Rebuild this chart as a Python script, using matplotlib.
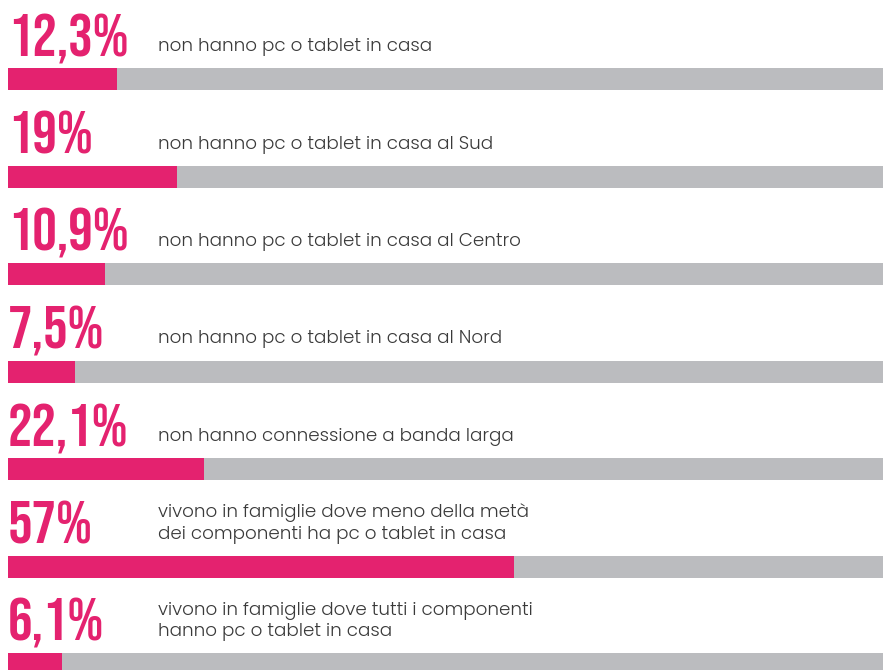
import matplotlib
matplotlib.use("Agg")
import matplotlib.pyplot as plt

# Share of people (%) and the description for each indicator
values = [12.3, 19.0, 10.9, 7.5, 22.1, 57.0, 6.1]
value_labels = ["12,3%", "19%", "10,9%", "7,5%", "22,1%", "57%", "6,1%"]
descriptions = [
    "non hanno pc o tablet in casa",
    "non hanno pc o tablet in casa al Sud",
    "non hanno pc o tablet in casa al Centro",
    "non hanno pc o tablet in casa al Nord",
    "non hanno connessione a banda larga",
    "vivono in famiglie dove meno della metà\ndei componenti ha pc o tablet in casa",
    "vivono in famiglie dove tutti i componenti\nhanno pc o tablet in casa",
]

PINK = "#e4226f"
GREY = "#bbbcbf"
TEXT = "#3a3a3a"

W, H = 883, 670
fig = plt.figure(figsize=(W / 100, H / 100), dpi=100)
fig.patch.set_facecolor("white")

# the track runs from x=8px to just past the right edge
left_px, track_px = 8, 887
row_px, first_center_px = 97.5, 79
ax = fig.add_axes([left_px / W, 0, track_px / W, 1])
ax.set_xlim(0, 100)
ax.set_ylim((H - first_center_px) / row_px, -first_center_px / row_px)
ax.axis("off")

rows = list(range(len(values)))
bar_h = 22 / row_px
ax.barh(rows, [100] * len(values), height=bar_h, color=GREY, linewidth=0)
ax.barh(rows, values, height=bar_h, color=PINK, linewidth=0)

num_base = -23 / row_px
lab_base = -28 / row_px
lab_x = (158 - left_px) / track_px * 100
for r, lab, desc in zip(rows, value_labels, descriptions):
    ax.text(0, r + num_base, lab, family="Bebas Neue", fontsize=44,
            color=PINK, ha="left", va="baseline")
    ax.text(lab_x, r + lab_base, desc, family="Poppins", weight=300,
            fontsize=13.2, color=TEXT, ha="left", va="baseline",
            linespacing=1.25)

fig.savefig("out.png", dpi=100, facecolor="white")
